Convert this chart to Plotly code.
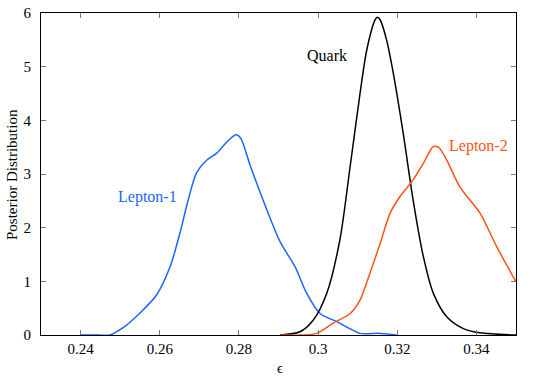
import plotly.graph_objects as go

lep1_x = [0.240, 0.2445, 0.2474, 0.2510, 0.2550, 0.2592, 0.2626, 0.2651, 0.2672, 0.2693, 0.2719, 0.2744,
          0.2770, 0.2793, 0.2805, 0.2828, 0.2866, 0.2904, 0.2942, 0.2971, 0.3005, 0.3047, 0.3080, 0.3106,
          0.3157, 0.3198]
lep1_y = [0.0, 0.0, 0.0, 0.15, 0.41, 0.745, 1.27, 1.90, 2.52, 3.02, 3.26, 3.39,
          3.60, 3.73, 3.66, 3.17, 2.42, 1.74, 1.27, 0.78, 0.40, 0.25, 0.12, 0.03,
          0.03, 0.0]

quark_x = [0.2904, 0.2954, 0.2988, 0.3022, 0.3055, 0.3081, 0.3106, 0.3123, 0.3144, 0.3150, 0.3157,
           0.3173, 0.3190, 0.3215, 0.3240, 0.3266, 0.3291, 0.3325, 0.3367, 0.3409, 0.3500]
quark_y = [0.0, 0.06, 0.28, 0.78, 1.77, 3.14, 4.50, 5.31, 5.87, 5.92, 5.87,
           5.50, 4.88, 3.76, 2.52, 1.46, 0.78, 0.34, 0.12, 0.04, 0.0]

lep2_x = [0.2904, 0.2960, 0.2996, 0.3038, 0.3081, 0.3106, 0.3131, 0.3157, 0.3182, 0.3207, 0.3240,
          0.3266, 0.3291, 0.3304, 0.3325, 0.3358, 0.3409, 0.3451, 0.3500]
lep2_y = [0.0, 0.0, 0.03, 0.22, 0.40, 0.65, 1.15, 1.71, 2.27, 2.58, 2.89,
          3.20, 3.51, 3.50, 3.26, 2.76, 2.27, 1.65, 0.99]

x_ticks = [0.24, 0.26, 0.28, 0.30, 0.32, 0.34]
x_tick_labels = ["0.24", "0.26", "0.28", "0.3", "0.32", "0.34"]
y_ticks = [0, 1, 2, 3, 4, 5, 6]

BLUE = "#1a66ff"
ORANGE = "#ff5210"
FONT = "Liberation Serif, DejaVu Serif, serif"

fig = go.Figure()
fig.add_trace(go.Scatter(x=lep1_x, y=lep1_y, mode="lines",
                         line=dict(color=BLUE, width=1.5, shape="spline", smoothing=0.8)))
fig.add_trace(go.Scatter(x=quark_x, y=quark_y, mode="lines",
                         line=dict(color="black", width=1.5, shape="spline", smoothing=0.8)))
fig.add_trace(go.Scatter(x=lep2_x, y=lep2_y, mode="lines",
                         line=dict(color=ORANGE, width=1.5, shape="spline", smoothing=0.8)))

fig.add_annotation(x=0.257, y=2.57, text="Lepton-1", showarrow=False,
                   font=dict(color=BLUE, size=16, family=FONT))
fig.add_annotation(x=0.3022, y=5.2, text="Quark", showarrow=False,
                   font=dict(color="black", size=16, family=FONT))
fig.add_annotation(x=0.3404, y=3.52, text="Lepton-2", showarrow=False,
                   font=dict(color=ORANGE, size=16, family=FONT))

# axis titles
fig.add_annotation(xref="paper", yref="paper", x=-0.061, y=0.497, text="Posterior Distribution",
                   textangle=-90, showarrow=False, xanchor="center", yanchor="middle",
                   font=dict(family=FONT, size=15, color="black"))
fig.add_annotation(xref="paper", yref="paper", x=0.503, y=-0.1025, text="ϵ",
                   showarrow=False, xanchor="center", yanchor="middle",
                   font=dict(family=FONT, size=15, color="black"))

axis_common = dict(showgrid=False, zeroline=False, showline=True, linecolor="black", linewidth=1,
                   mirror="allticks", ticks="inside", ticklen=5, tickcolor="#777777",
                   automargin=False,
                   tickfont=dict(family=FONT, size=15, color="black"))

fig.update_xaxes(range=[0.23, 0.35], tickvals=x_ticks, ticktext=x_tick_labels, **axis_common)
fig.update_yaxes(range=[0, 6], tickvals=y_ticks, ticklabelstandoff=6, **axis_common)

fig.update_layout(width=540, height=378, margin=dict(l=41, r=24, t=13, b=43),
                  plot_bgcolor="white", paper_bgcolor="white", showlegend=False,
                  font=dict(family=FONT, color="black"))

fig.write_html("out.html", config={"displayModeBar": False})
with open("out.html", encoding="utf-8") as f:
    html = f.read()
html = html.replace("<body>", '<body style="margin:0;padding:0;overflow:hidden">', 1)
with open("out.html", "w", encoding="utf-8") as f:
    f.write(html)
